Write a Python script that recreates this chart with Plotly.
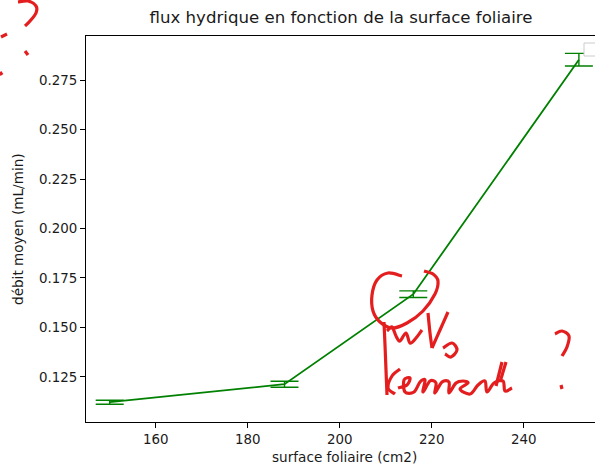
import plotly.graph_objects as go

# ---- data ----
surface = [150, 188, 216, 252]
debit = [0.1122, 0.1213, 0.1668, 0.2853]
erreur = [0.0010, 0.0015, 0.0017, 0.0032]
x_ticks = [160, 180, 200, 220, 240]
y_ticks = [0.125, 0.150, 0.175, 0.200, 0.225, 0.250, 0.275]

W, H = 595, 466
L, R, T, B = 86, 0, 36, 44
PW, PH = W - L - R, H - T - B

def px(x, y):
    return (x - L) / PW, (H - B - y) / PH

def smooth_path(pts):
    p = [px(*q) for q in pts]
    if len(p) == 2:
        return "M%.5f,%.5f L%.5f,%.5f" % (p[0][0], p[0][1], p[1][0], p[1][1])
    d = "M%.5f,%.5f" % p[0]
    for i in range(len(p) - 1):
        p0 = p[i - 1] if i > 0 else p[i]
        p1 = p[i]
        p2 = p[i + 1]
        p3 = p[i + 2] if i + 2 < len(p) else p[i + 1]
        c1 = (p1[0] + (p2[0] - p0[0]) / 6, p1[1] + (p2[1] - p0[1]) / 6)
        c2 = (p2[0] - (p3[0] - p1[0]) / 6, p2[1] - (p3[1] - p1[1]) / 6)
        d += " C%.5f,%.5f %.5f,%.5f %.5f,%.5f" % (c1[0], c1[1], c2[0], c2[1], p2[0], p2[1])
    return d

fig = go.Figure()
fig.add_trace(go.Scatter(
    x=surface, y=debit, mode="lines",
    line=dict(color="green", width=1.8),
    error_y=dict(type="data", array=erreur, visible=True, color="green",
                 thickness=1.4, width=14),
    showlegend=False, hoverinfo="skip",
))

font = "DejaVu Sans, Arial, sans-serif"
txt = "#1a1a1a"
fig.update_layout(
    width=W, height=H,
    margin=dict(l=L, r=R, t=T, b=B),
    plot_bgcolor="white", paper_bgcolor="white",
    font=dict(family=font, size=13.4, color=txt),
    title=dict(text="flux hydrique en fonction de la surface foliaire",
               x=(341 - L) / PW, xref="paper", xanchor="center",
               y=1 - 17 / H, yref="container", yanchor="middle",
               font=dict(size=16.6, family=font, color=txt)),
    xaxis=dict(range=[144.85, 144.85 + PW / 4.6], tickvals=x_ticks,
               ticks="outside", ticklen=5, tickcolor="black",
               showline=True, linecolor="black", linewidth=1, mirror=True,
               showgrid=False, zeroline=False),
    yaxis=dict(range=[0.1022, 0.2973], tickvals=y_ticks, tickformat=".3f",
               ticks="outside", ticklen=5, tickcolor="black",
               showline=True, linecolor="black", linewidth=1,
               showgrid=False, zeroline=False),
)

fig.add_annotation(text="surface foliaire (cm2)", xref="paper", yref="paper",
                   x=(344 - L) / PW, y=px(0, 457)[1], xanchor="center", yanchor="middle",
                   showarrow=False, font=dict(size=13.6, family=font, color=txt))
fig.add_annotation(text="débit moyen (mL/min)", xref="paper", yref="paper",
                   x=px(18, 0)[0], y=px(0, 229)[1], xanchor="center", yanchor="middle",
                   textangle=-90, showarrow=False,
                   font=dict(size=13.6, family=font, color=txt))

# partially visible legend frame at top right
x0, y0 = px(584, 43)
x1, y1 = px(600, 56)
fig.add_shape(type="rect", xref="paper", yref="paper", x0=x0, y0=y1, x1=x1, y1=y0,
              line=dict(color="#cccccc", width=1), fillcolor="white")

# red handwritten annotations
red = "#e41e1e"
strokes = [
    [(18, 2), (28, 1), (36, 6), (36, 13), (30, 21), (25, 26)],
    [(1, 37), (7, 34)],
    [(25, 51), (28, 55)],
    [(0, 72), (2, 75)],
    # circle
    [(402, 276), (388, 273), (377, 280), (372, 295), (373, 311), (380, 322),
     (392, 328), (407, 323), (423, 311), (435, 294), (438, 281), (433, 274), (424, 271)],
    # first word
    [(384, 322), (385, 345), (386, 370), (387, 395)],
    [(387, 331), (392, 327), (396, 336), (400, 341), (406, 333), (410, 343),
     (416, 338), (422, 330)],
    [(428, 313), (430, 333), (432, 348)],
    [(448, 312), (440, 330), (432, 348)],
    [(443, 348), (452, 343), (457, 350), (451, 357), (445, 354)],
    # second word
    [(400, 369), (392, 376), (388, 388), (395, 394)],
    [(398, 388), (407, 385), (410, 378), (404, 380), (405, 392), (414, 392),
     (420, 382), (425, 380), (423, 392), (430, 381), (436, 383), (435, 393),
     (442, 382), (449, 382), (449, 393), (456, 383), (463, 381), (468, 383),
     (460, 389), (470, 394), (478, 385), (485, 381), (487, 392), (494, 383),
     (503, 381), (505, 391), (512, 388)],
    [(502, 362), (496, 386)],
    [(506, 362), (500, 382)],
    [(555, 334), (562, 331), (569, 336), (567, 347), (562, 356)],
    [(561, 385), (562, 389)],
]
for s in strokes:
    fig.add_shape(type="path", xref="paper", yref="paper", path=smooth_path(s),
                  line=dict(color=red, width=3.2), layer="above")

fig.write_html("out.html", config={"displayModeBar": False},
               post_script="document.body.style.margin='0';")
